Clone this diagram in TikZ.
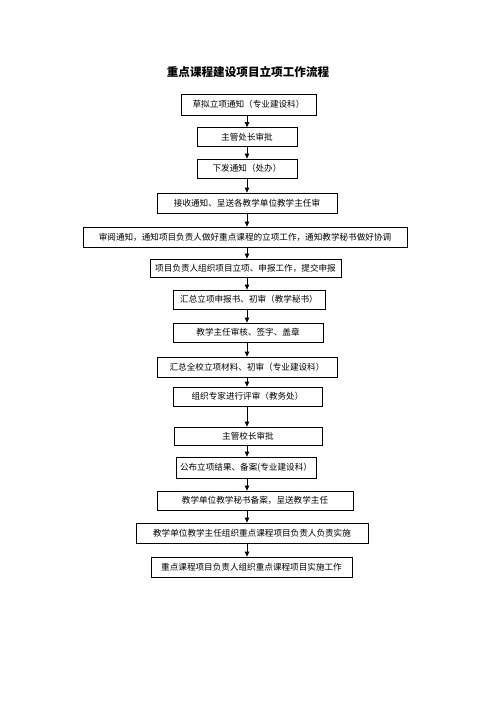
\documentclass[tikz,border=0pt]{standalone}
\usepackage{fontspec}
\newfontfamily\cjk{Noto Sans CJK SC}
\usetikzlibrary{arrows.meta}

\begin{document}
\begin{tikzpicture}[
      x=1pt,y=-1pt,
      >={Triangle[width=4.5pt,length=5pt]},
      stepbox/.style={draw,line width=0.8pt,inner sep=0pt,
        font=\cjk\fontsize{8.6}{10}\selectfont},
      flow/.style={->,line width=0.8pt}
    ]
    \path[use as bounding box,fill=white] (0,0) rectangle (496,702);
    \node[font=\cjk\bfseries\fontsize{11.6}{13}\selectfont] (title) at (248,72.5)
      {重点课程建设项目立项工作流程};
    \coordinate (axis) at (247,0);

    \node[stepbox,minimum width=135pt,minimum height=21pt] (s1) at (248.5,104.5) {草拟立项通知（专业建设科）};
    \node[stepbox,minimum width=100pt,minimum height=19pt] (s2) at (247,137) {主管处长审批};
    \node[stepbox,minimum width=100pt,minimum height=19pt] (s3) at (247,168.5) {下发通知（处办）};
    \node[stepbox,minimum width=180pt,minimum height=20pt] (s4) at (247,203) {接收通知、呈送各教学单位教学主任审};
    \node[stepbox,minimum width=324pt,minimum height=20pt] (s5) at (245,237) {审阅通知，通知项目负责人做好重点课程的立项工作，通知教学秘书做好协调};
    \node[stepbox,minimum width=191pt,minimum height=18pt] (s6) at (245.5,268) {项目负责人组织项目立项、申报工作，提交申报};
    \node[stepbox,minimum width=152pt,minimum height=19pt] (s7) at (249,299.5) {汇总立项申报书、初审（教学秘书）};
    \node[stepbox,minimum width=150pt,minimum height=19pt] (s8) at (248,332.5) {教学主任审核、签字、盖章};
    \node[stepbox,minimum width=180pt,minimum height=20pt] (s9) at (247,367) {汇总全校立项材料、初审（专业建设科）};
    \node[stepbox,minimum width=149pt,minimum height=19pt] (s10) at (247.5,396.5) {组织专家进行评审（教务处）};
    \node[stepbox,minimum width=148pt,minimum height=18pt] (s11) at (248,436) {主管校长审批};
    \node[stepbox,minimum width=140pt,minimum height=21pt] (s12) at (246,467.5) {公布立项结果、备案(专业建设科）};
    \node[stepbox,minimum width=196pt,minimum height=19pt] (s13) at (255,500.5) {教学单位教学秘书备案，呈送教学主任};
    \node[stepbox,minimum width=232pt,minimum height=20pt] (s14) at (252,533) {教学单位教学主任组织重点课程项目负责人负责实施};
    \node[stepbox,minimum width=201pt,minimum height=20pt] (s15) at (251.5,567) {重点课程项目负责人组织重点课程项目实施工作};

    \foreach \i [evaluate=\i as \j using int(\i+1)] in {1,...,14}
      \draw[flow] (s\i.south -| axis) -- (s\j.north -| axis);
  \end{tikzpicture}
\end{document}
